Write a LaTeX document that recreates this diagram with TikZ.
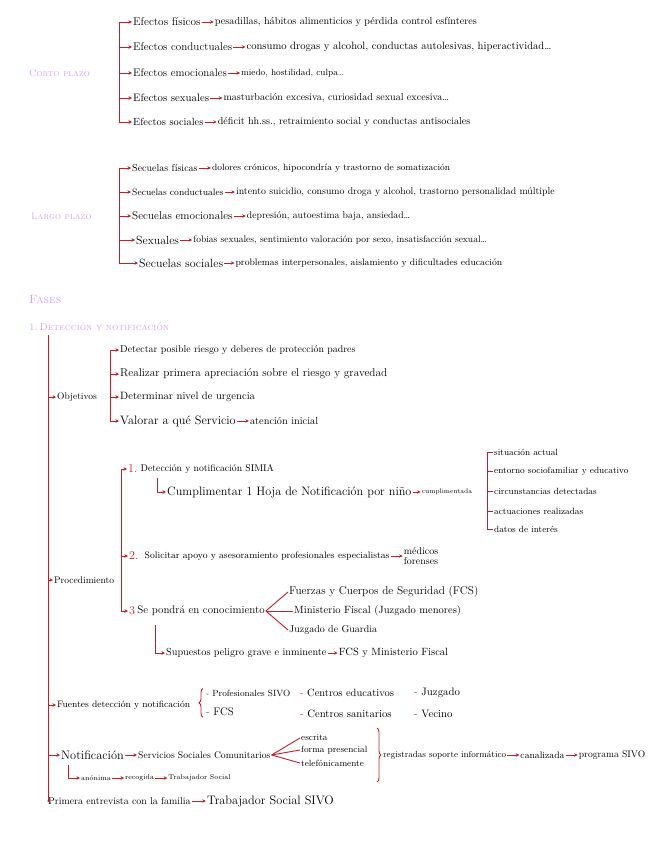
\documentclass[tikz,border=0pt]{standalone}
\usepackage{fontspec}
\usepackage{tikz}
\usetikzlibrary{arrows.meta, positioning, decorations.pathreplacing}

\definecolor{rojo}{RGB}{196,30,40}
\definecolor{lila}{RGB}{212,160,245}

\begin{document}
\begin{tikzpicture}[
    x=1pt, y=-1pt,
    every node/.style={anchor=west, inner sep=1pt, font=\fontsize{9.5}{11}\selectfont},
    fs/.style={font=\fontsize{#1}{#1}\selectfont},
    head/.style={text=lila, font=\fontsize{9.5}{11}\selectfont},
    num/.style={text=rojo, font=\fontsize{12}{13}\selectfont},
    link/.style={draw=rojo, line width=0.9pt},
    branch/.style={link, -{Stealth[length=3.5pt,width=3.5pt]}},
    rbrace/.style={link, decorate, decoration={brace, amplitude=4pt}}
]
\useasboundingbox (0,0) rectangle (656,848);

% Corto plazo
\node[head] (cp) at (28,73) {\textsc{Corto plazo}};
\coordinate (cpt) at (119,22);
\node[fs=11.3] (ef1) at (132,22) {Efectos físicos};
\node[fs=10.2, right=12pt of ef1] (ef1d) {pesadillas, hábitos alimenticios y pérdida control esfínteres};
\node[fs=11.1] (ef2) at (132,47) {Efectos conductuales};
\node[fs=10.6, right=12pt of ef2] (ef2d) {consumo drogas y alcohol, conductas autolesivas, hiperactividad\dots};
\node[fs=11] (ef3) at (132,73) {Efectos emocionales};
\node[fs=9, right=12pt of ef3] (ef3d) {miedo, hostilidad, culpa\dots};
\node[fs=10.8] (ef4) at (132,98) {Efectos sexuales};
\node[fs=10.1, right=12pt of ef4] (ef4d) {masturbación excesiva, curiosidad sexual excesiva\dots};
\node[fs=10.4] (ef5) at (132,122) {Efectos sociales};
\node[fs=10.1, right=12pt of ef5] (ef5d) {déficit hh.ss., retraimiento social y conductas antisociales};

\foreach \n in {ef1,ef2,ef3,ef4,ef5} {
  \draw[branch] (cpt) |- (\n.west);
  \draw[branch] (\n.east) -- (\n d.west);
}

% Largo plazo
\node[head] (lp) at (30,216) {\textsc{Largo plazo}};
\coordinate (lpt) at (119,168);
\node[fs=10] (sc1) at (131,168) {Secuelas físicas};
\node[fs=9.2, right=12pt of sc1] (sc1d) {dolores crónicos, hipocondría y trastorno de somatización};
\node[fs=9.3] (sc2) at (131,192) {Secuelas conductuales};
\node[fs=9.8, right=10pt of sc2] (sc2d) {intento suicidio, consumo droga y alcohol, trastorno personalidad múltiple};
\node[fs=11.2] (sc3) at (131,216) {Secuelas emocionales};
\node[fs=9.7, right=12pt of sc3] (sc3d) {depresión, autoestima baja, ansiedad\dots};
\node[fs=11.8] (sc4) at (135,240) {Sexuales};
\node[fs=9.5, right=12pt of sc4] (sc4d) {fobias sexuales, sentimiento valoración por sexo, insatisfacción sexual\dots};
\node[fs=11.9] (sc5) at (138,263) {Secuelas sociales};
\node[fs=9.4, right=10pt of sc5] (sc5d) {problemas interpersonales, aislamiento y dificultades educación};

\foreach \n in {sc1,sc2,sc3,sc4,sc5} {
  \draw[branch] (lpt) |- (\n.west);
  \draw[branch] (\n.east) -- (\n d.west);
}

% Fases
\node[head, font=\fontsize{12}{13}\selectfont] (fases) at (28,300) {\textsc{Fases}};
\node[head, font=\fontsize{10}{12}\selectfont] (fdn) at (28,327) {\textsc{1.\,Detección y notificación}};
\coordinate (fl) at (48,335);

% Objetivos
\node (obj) at (56,397) {Objetivos};
\coordinate (objt) at (110,350);
\node[fs=9.9] (o1) at (119,350) {Detectar posible riesgo y deberes de protección padres};
\node[fs=11.3] (o2) at (119,374) {Realizar primera apreciación sobre el riesgo y gravedad};
\node[fs=10.6] (o3) at (119,397) {Determinar nivel de urgencia};
\node[fs=12.2] (o4) at (119,421) {Valorar a qué Servicio};
\node[fs=10.3, right=12pt of o4] (o4d) {atención inicial};
\foreach \n in {o1,o2,o3,o4}
  \draw[branch] (objt) |- (\n.west);
\draw[branch] (o4.east) -- (o4d.west);

% Procedimiento
\node (proc) at (53,580) {Procedimiento};
\coordinate (proct) at (121,469);
\node[num] (p1n) at (127,469) {1.};
\node[fs=9.7, right=1pt of p1n] (p1) {Detección y notificación SIMIA};
\coordinate (p1c) at (157,478);
\node[fs=12.2] (hoja) at (166,492) {Cumplimentar 1 Hoja de Notificación por niño};
\node[fs=6.6, right=8pt of hoja] (cump) {cumplimentada};
\draw[branch] (p1c) |- (hoja.west);
\draw[branch] (hoja.east) -- (cump.west);

\coordinate (sitt) at (487,452);
\node[fs=9] (s1) at (493,452) {situación actual};
\node[fs=9] (s2) at (493,471) {entorno sociofamiliar y educativo};
\node[fs=9] (s3) at (493,491) {circunstancias detectadas};
\node[fs=9] (s4) at (493,511) {actuaciones realizadas};
\node[fs=9] (s5) at (493,529) {datos de interés};
\foreach \n in {s1,s2,s3,s4,s5}
  \draw[link] (sitt) |- (\n.west);

\node[num] (p2n) at (128,556) {2.};
\node[fs=9.4, right=4pt of p2n] (p2) {Solicitar apoyo y asesoramiento profesionales especialistas};
\node[fs=10, align=left, right=12pt of p2] (mf2) {médicos\\forenses};
\draw[branch] (p2.east) -- (mf2.west);

\node[num] (p3n) at (128,611) {3};
\node[fs=11, right=0pt of p3n] (p3) {Se pondrá en conocimiento};
\node[fs=11.3] (fcs) at (288,592) {Fuerzas y Cuerpos de Seguridad (FCS)};
\node[fs=10.5] (mfis) at (293,611) {Ministerio Fiscal (Juzgado menores)};
\node[fs=10] (jg) at (288,630) {Juzgado de Guardia};
\foreach \n in {fcs,mfis,jg}
  \draw[link] (p3.east) -- (\n.west);
\coordinate (p3c) at (155,625);
\node[fs=10.2] (sup) at (165,653) {Supuestos peligro grave e inminente};
\node[fs=10.5, right=10pt of sup] (supd) {FCS y Ministerio Fiscal};
\draw[branch] (p3c) |- (sup.west);
\draw[branch] (sup.east) -- (supd.west);

\foreach \n in {p1n,p2n,p3n}
  \draw[branch] (proct) |- (\n.west);

% Fuentes
\node[fs=9.3] (fue) at (56,705) {Fuentes detección y notificación};
\node[fs=9] (fu1) at (205,693) {\textcolor{rojo}{-} Profesionales SIVO};
\node[fs=11] (fu2) at (205,712) {\textcolor{rojo}{-} FCS};
\node[fs=10.5] (fu3) at (299,693) {\textcolor{rojo}{-} Centros educativos};
\node[fs=10.7] (fu4) at (299,714) {\textcolor{rojo}{-} Centros sanitarios};
\node[fs=10.8] (fu5) at (413,693) {\textcolor{rojo}{-} Juzgado};
\node[fs=10.8] (fu6) at (413,714) {\textcolor{rojo}{-} Vecino};
\draw[rbrace] ([xshift=-2pt]fu2.south west) -- ([xshift=-2pt]fu1.north west);

% Notificacion
\node[fs=12.3] (noti) at (60,755) {Notificación};
\node[fs=9.6, right=12pt of noti] (ssc) {Servicios Sociales Comunitarios};
\node[fs=9] (esc) at (300,738) {escrita};
\node[fs=9] (pres) at (300,750) {forma presencial};
\node[fs=9] (tel) at (300,763) {telefónicamente};
\foreach \n in {esc,pres,tel}
  \draw[link] (ssc.east) -- (\n.west);
\draw[rbrace] (377,728) -- (377,782);
\node[fs=8.8] (reg) at (382,755) {registradas soporte informático};
\node[fs=9.4, right=12pt of reg] (can) {canalizada};
\node[fs=9.6, right=12pt of can] (sivo) {programa SIVO};
\draw[branch] (noti.east) -- (ssc.west);
\draw[branch] (reg.east) -- (can.west);
\draw[branch] (can.east) -- (sivo.west);
\coordinate (notc) at (68,765);
\node[fs=7] (anon) at (80,778) {anónima};
\node[fs=7, right=12pt of anon] (rec) {recogida};
\node[fs=7, right=12pt of rec] (ts) {Trabajador Social};
\draw[branch] (notc) |- (anon.west);
\draw[branch] (anon.east) -- (rec.west);
\draw[branch] (rec.east) -- (ts.west);

% Primera entrevista
\node[fs=9.9] (prim) at (47,801) {Primera entrevista con la familia};
\node[fs=12.3, right=14pt of prim] (tss) {Trabajador Social SIVO};
\draw[branch] (prim.east) -- (tss.west);

\foreach \n in {obj,proc,fue,noti,prim}
  \draw[branch] (fl) |- (\n.west);

\end{tikzpicture}
\end{document}
